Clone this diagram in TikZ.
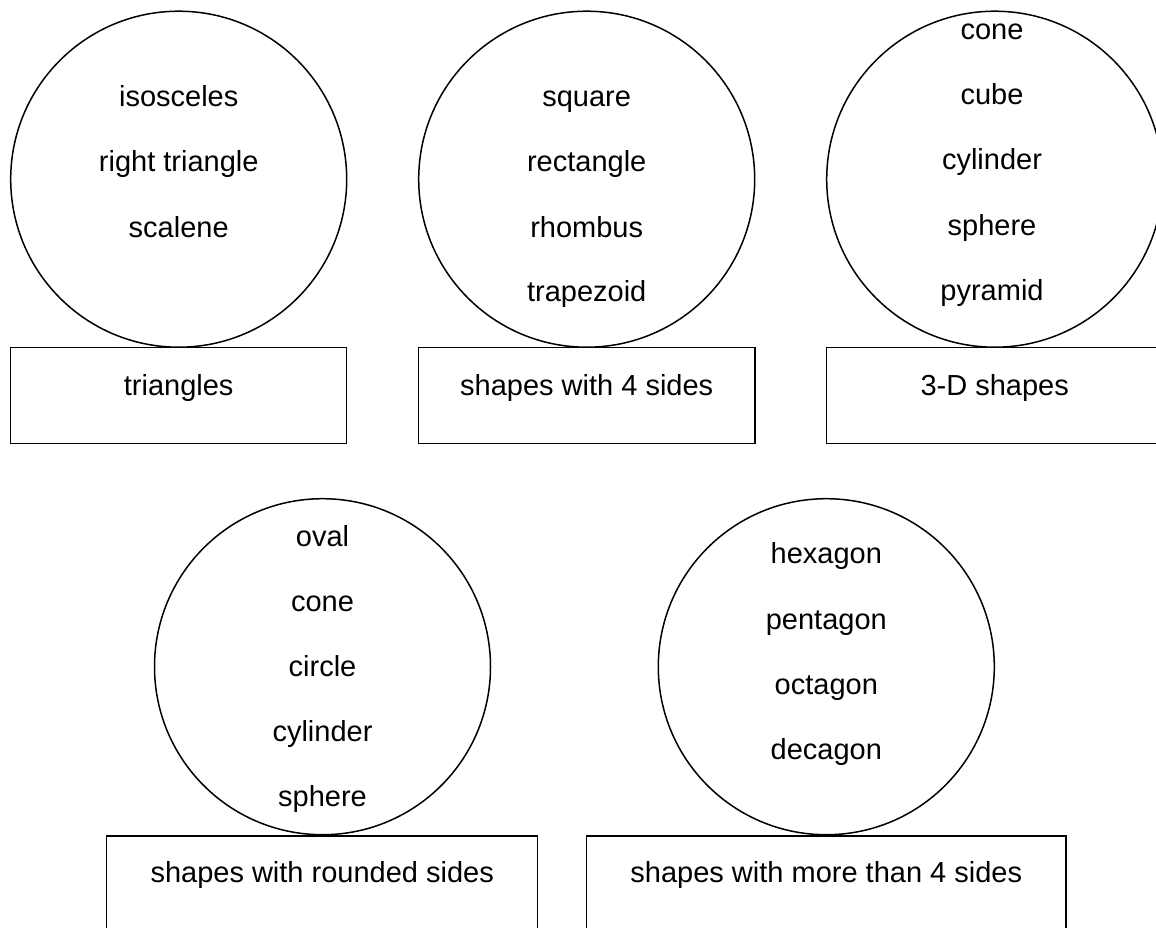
\documentclass[tikz,border=0pt]{standalone}
\usepackage{fontspec}
\setmainfont{Liberation Sans}
\begin{document}
\begin{tikzpicture}[x=1pt,y=-1pt,
  ring/.style={draw=black,line width=1.5pt,circle,minimum size=336pt,inner sep=0pt},
  lab/.style={draw=black,line width=1.5pt,rectangle,inner sep=0pt},
  item/.style={anchor=base,inner sep=0pt,font=\fontsize{29}{34}\selectfont}]
\useasboundingbox (0,0) rectangle (1156,927);
\clip (0,0) rectangle (1156,927);
% circles
\node[ring] (c1) at (178.7,179.2) {};
\node[ring] (c2) at (586.7,179.2) {};
\node[ring] (c3) at (994.7,179.2) {};
\node[ring] (c4) at (322.5,666.7) {};
\node[ring] (c5) at (826.3,666.7) {};
% boxes
\node[lab,minimum width=336pt,minimum height=95.6pt] (b1) at (178.7,395.5) {};
\node[lab,minimum width=336.7pt,minimum height=95.6pt] (b2) at (586.7,395.5) {};
\node[lab,minimum width=336pt,minimum height=95.6pt] (b3) at (994.7,395.5) {};
\node[lab,minimum width=431pt,minimum height=124pt] (b4) at (322.2,898) {};
\node[lab,minimum width=479.3pt,minimum height=124pt] (b5) at (826.3,898) {};
% circle 1
\node[item] (t11) at (178.7,106.7) {isosceles};
\node[item] (t12) at (178.7,171.9) {right triangle};
\node[item] (t13) at (178.7,237.3) {scalene};
\node[item] (l1) at (178.7,395.7) {triangles};
% circle 2
\node[item] (t21) at (586.7,106.7) {square};
\node[item] (t22) at (586.7,171.9) {rectangle};
\node[item] (t23) at (586.7,237.3) {rhombus};
\node[item] (t24) at (586.7,301.7) {trapezoid};
\node[item] (l2) at (586.7,395.7) {shapes with 4 sides};
% circle 3
\node[item] (t31) at (992,39.3) {cone};
\node[item] (t32) at (992,104.3) {cube};
\node[item] (t33) at (992,169.7) {cylinder};
\node[item] (t34) at (992,235) {sphere};
\node[item] (t35) at (992,300.3) {pyramid};
\node[item] (l3) at (994.7,395.7) {3-D shapes};
% circle 4
\node[item] (t41) at (322.5,546.7) {oval};
\node[item] (t42) at (322.5,611.7) {cone};
\node[item] (t43) at (322.5,676.3) {circle};
\node[item] (t44) at (322.5,741.7) {cylinder};
\node[item] (t45) at (322.5,806.7) {sphere};
\node[item] (l4) at (322.2,882.7) {shapes with rounded sides};
% circle 5
\node[item] (t51) at (826.3,563.3) {hexagon};
\node[item] (t52) at (826.3,629) {pentagon};
\node[item] (t53) at (826.3,694.3) {octagon};
\node[item] (t54) at (826.3,759.3) {decagon};
\node[item] (l5) at (826.3,882.7) {shapes with more than 4 sides};
\end{tikzpicture}
\end{document}
